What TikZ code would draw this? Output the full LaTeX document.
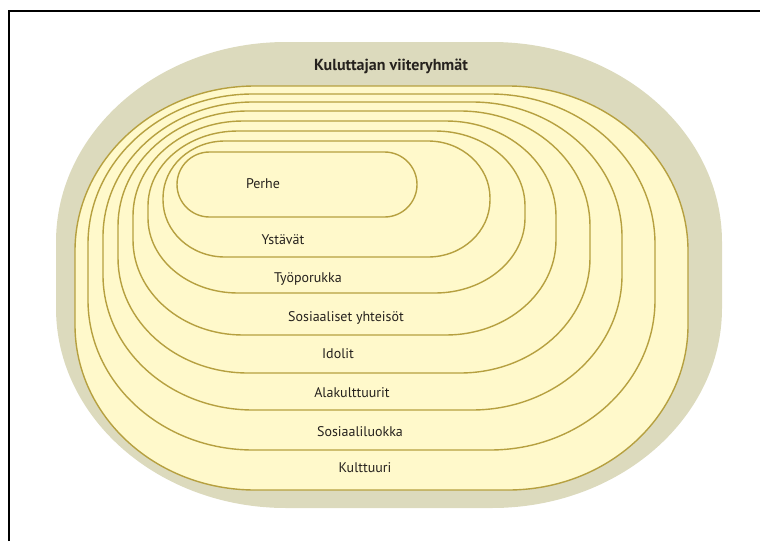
\documentclass[tikz,border=0pt]{standalone}
\usepackage{fontspec}
\setmainfont{PT Sans}
\usepackage{tikz}
\usetikzlibrary{positioning}
\usepackage{xcolor}

\definecolor{blobgrey}{RGB}{220,218,189}
\definecolor{ringfill}{RGB}{255,249,203}
\definecolor{ringline}{RGB}{182,160,64}
\definecolor{labeltext}{RGB}{38,34,30}

\begin{document}
\begin{tikzpicture}[
  x=1pt,y=-1pt,
  blob/.style={fill=blobgrey,draw=none},
  ring/.style={fill=ringfill,draw=ringline,line width=1.4pt},
  lbl/.style={font=\fontsize{14}{16}\selectfont,text=labeltext,inner sep=1pt},
  heading/.style={font=\fontsize{16}{18}\selectfont\bfseries,text=labeltext,inner sep=1pt}
]
\useasboundingbox (0,0) rectangle (760,541);
% frame, top and left only
\draw[line width=2.5pt] (9,541) -- (9,11) -- (760,11);

% rounded boxes with elliptic corners, outermost first:
% left/top/right/bottom/corner x radius/corner y radius
\foreach \xl/\yt/\xr/\yb/\cx/\cy/\sty in {
    56/42/722/508/230/200/blob,
    75/86/688/490/180/165/ring,
    88/94/655/450/165/150/ring,
    103/102/622/410/150/135/ring,
    118/111/590/373/130/115/ring,
    133/121/556/335/110/95/ring,
    148/131/525/293/90/75/ring,
    163/141/490/257/62/57/ring,
    177/152/417/217/32.5/32.5/ring}
{
  \path[\sty] (\xl+\cx,\yt) -- (\xr-\cx,\yt)
    arc[start angle=-90,end angle=0,x radius=\cx,y radius=\cy] -- (\xr,\yb-\cy)
    arc[start angle=0,end angle=90,x radius=\cx,y radius=\cy] -- (\xl+\cx,\yb)
    arc[start angle=90,end angle=180,x radius=\cx,y radius=\cy] -- (\xl,\yt+\cy)
    arc[start angle=180,end angle=270,x radius=\cx,y radius=\cy] -- cycle;
}

\node[heading] (title) at (391,66) {Kuluttajan viiteryhmät};
\node[lbl] (perhe) at (263,184) {Perhe};
\node[lbl] (ystavat) at (283,240) {Ystävät};
\node[lbl] (tyoporukka) at (308,279) {Työporukka};
\node[lbl] (yhteisot) at (346,318) {Sosiaaliset yhteisöt};
\node[lbl] (idolit) at (338,354) {Idolit};
\node[lbl] (alakulttuurit) at (352,393) {Alakulttuurit};
\node[lbl] (luokka) at (360,432) {Sosiaaliluokka};
\node[lbl] (kulttuuri) at (365,468) {Kulttuuri};
\end{tikzpicture}
\end{document}
